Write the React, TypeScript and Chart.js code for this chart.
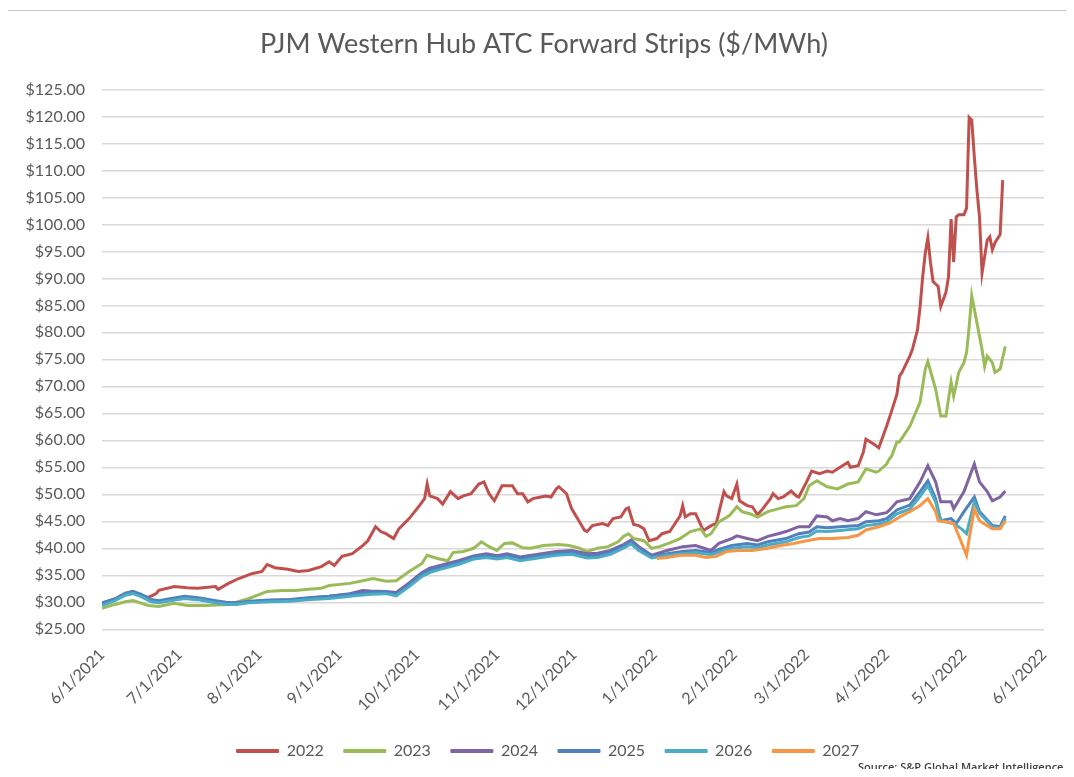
import React, { useEffect, useRef } from 'react';
import { Chart, registerables } from 'chart.js';

Chart.register(...registerables);

// ---- DATA ----
const chartTitle = 'PJM Western Hub ATC Forward Strips ($/MWh)';
const sourceNote = 'Source: S&P Global Market Intelligence';
const seriesNames = ['2022', '2023', '2024', '2025', '2026', '2027'];

// x positions are days since 6/1/2021
const monthDays = [0, 30, 61, 92, 122, 153, 183, 214, 245, 273, 304, 334, 365];
const monthLabels = ['6/1/2021', '7/1/2021', '8/1/2021', '9/1/2021', '10/1/2021', '11/1/2021', '12/1/2021', '1/1/2022', '2/1/2022', '3/1/2022', '4/1/2022', '5/1/2022', '6/1/2022'];
const yMin = 25;
const yMax = 125;
const yStep = 5;

const strip2022: [number, number][] = [
  [0, 29.8], [5, 30.6], [9, 31.6], [12, 32.0], [15, 31.3], [18, 30.9], [21, 31.6], [22, 32.2], [28, 32.9], [33, 32.7],
  [37, 32.6], [44, 32.9], [45, 32.4], [49, 33.5], [53, 34.4], [58, 35.3], [62, 35.7], [64, 37.0], [67, 36.4], [72, 36.1],
  [76, 35.7], [80, 35.9], [85, 36.6], [88, 37.5], [90, 36.8], [93, 38.5], [97, 39.0], [101, 40.5], [103, 41.4], [106, 44.0],
  [108, 43.1], [110, 42.7], [113, 41.8], [115, 43.6], [119, 45.5], [123, 47.9], [125, 49.2], [126, 51.9], [127, 49.7], [130, 49.2],
  [132, 48.2], [135, 50.5], [138, 49.2], [140, 49.7], [143, 50.1], [146, 51.9], [148, 52.3], [150, 50.1], [152, 48.8], [153, 49.7],
  [155, 51.6], [159, 51.6], [161, 50.1], [163, 50.1], [165, 48.6], [167, 49.2], [170, 49.5], [172, 49.7], [174, 49.5], [176, 51.0],
  [177, 51.4], [180, 50.1], [182, 47.3], [185, 44.9], [187, 43.3], [188, 43.1], [190, 44.2], [194, 44.6], [196, 44.2], [198, 45.5],
  [201, 45.8], [203, 47.3], [204, 47.5], [206, 44.4], [208, 44.2], [210, 43.6], [212, 41.4], [215, 41.8], [217, 42.7], [220, 43.1],
  [224, 46.0], [225, 47.9], [226, 45.8], [228, 46.4], [230, 46.4], [233, 43.3], [236, 44.2], [238, 44.6], [241, 50.5], [242, 49.7],
  [244, 49.2], [246, 51.9], [247, 48.8], [250, 47.9], [252, 47.7], [254, 46.2], [256, 47.3], [259, 49.2], [260, 50.1], [262, 49.2],
  [264, 49.5], [267, 50.6], [269, 49.7], [270, 49.5], [273, 52.3], [275, 54.3], [278, 53.8], [281, 54.3], [283, 54.1], [286, 55.0],
  [289, 55.9], [290, 55.0], [293, 55.3], [295, 57.8], [296, 60.2], [299, 59.3], [301, 58.6], [304, 62.6], [306, 65.5], [308, 68.5],
  [309, 71.9], [310, 72.6], [313, 75.6], [314, 76.8], [316, 80.5], [317, 84.8], [318, 90.3], [319, 94.7], [320, 97.5], [321, 93.0],
  [322, 89.4], [324, 88.5], [325, 84.8], [326, 86.1], [327, 87.4], [328, 90.3], [329, 101.0], [330, 93.0], [331, 101.4], [332, 101.8],
  [334, 101.8], [335, 103.0], [336, 119.8], [337, 119.3], [338, 112.5], [339, 106.4], [340, 101.4], [341, 91.0], [343, 97.1], [344, 97.7],
  [345, 95.3], [346, 96.6], [348, 98.1], [349, 108.2],
];

const strip2023: [number, number][] = [
  [0, 28.9], [5, 29.6], [9, 30.1], [12, 30.3], [18, 29.4], [22, 29.2], [28, 29.8], [33, 29.4], [40, 29.4], [49, 29.6],
  [57, 30.7], [64, 32.0], [70, 32.2], [75, 32.2], [80, 32.4], [85, 32.6], [88, 33.1], [96, 33.5], [101, 34.0], [105, 34.4],
  [110, 33.9], [114, 34.0], [119, 35.7], [124, 37.2], [126, 38.7], [130, 38.1], [134, 37.7], [136, 39.2], [140, 39.4], [144, 40.0],
  [147, 41.2], [150, 40.3], [153, 39.6], [156, 40.9], [159, 41.0], [163, 40.1], [166, 40.0], [171, 40.5], [177, 40.7], [181, 40.5],
  [185, 40.0], [188, 39.4], [192, 40.0], [196, 40.3], [200, 41.2], [202, 42.2], [204, 42.7], [206, 41.8], [210, 41.4], [213, 40.0],
  [216, 40.3], [220, 41.0], [224, 41.8], [228, 43.1], [232, 43.6], [234, 42.2], [236, 42.7], [239, 44.9], [243, 46.0], [246, 47.7],
  [248, 46.8], [251, 46.4], [254, 45.8], [258, 46.8], [262, 47.3], [265, 47.7], [269, 47.9], [272, 49.2], [274, 51.6], [277, 52.5],
  [281, 51.4], [285, 51.0], [289, 51.9], [293, 52.3], [296, 54.7], [300, 54.1], [301, 54.3], [304, 55.6], [305, 56.5], [306, 57.1],
  [308, 59.7], [309, 59.7], [313, 62.6], [317, 67.1], [319, 73.2], [320, 74.6], [323, 69.5], [325, 64.5], [327, 64.5], [329, 70.8],
  [330, 68.2], [332, 72.6], [334, 74.4], [335, 76.3], [336, 81.0], [337, 86.8], [339, 81.8], [341, 76.8], [342, 73.7], [343, 75.6],
  [345, 74.4], [346, 72.6], [348, 73.2], [350, 77.4],
];

const strip2024: [number, number][] = [
  [0, 29.6], [5, 30.4], [9, 31.4], [12, 31.7], [15, 31.2], [19, 30.3], [22, 30.0], [28, 30.5], [32, 30.8], [38, 30.5],
  [44, 30.0], [48, 29.7], [52, 29.7], [57, 30.1], [65, 30.3], [73, 30.4], [81, 30.8], [88, 31.1], [96, 31.6], [101, 32.2],
  [104, 32.1], [110, 32.0], [114, 31.8], [119, 33.6], [124, 35.5], [127, 36.3], [131, 36.8], [138, 37.7], [144, 38.6], [149, 39.0],
  [153, 38.6], [157, 39.0], [162, 38.4], [169, 38.9], [176, 39.4], [182, 39.6], [188, 39.0], [192, 39.1], [197, 39.6], [202, 40.7],
  [205, 41.5], [208, 40.3], [213, 38.7], [219, 39.6], [225, 40.3], [230, 40.5], [236, 39.6], [239, 40.9], [244, 41.8], [246, 42.3],
  [250, 41.8], [254, 41.4], [258, 42.2], [262, 42.7], [265, 43.1], [270, 44.0], [274, 44.0], [277, 46.0], [281, 45.8], [283, 45.1],
  [286, 45.5], [289, 45.1], [293, 45.5], [296, 46.8], [300, 46.2], [304, 46.6], [305, 47.0], [308, 48.6], [313, 49.2], [317, 52.3],
  [320, 55.3], [323, 52.3], [325, 48.6], [329, 48.6], [330, 47.3], [334, 50.5], [338, 55.6], [340, 52.3], [343, 50.5], [345, 48.8],
  [348, 49.5], [350, 50.6],
];

const strip2025: [number, number][] = [
  [0, 29.9], [5, 30.6], [9, 31.7], [12, 32.0], [15, 31.5], [19, 30.5], [22, 30.3], [28, 30.8], [32, 31.1], [38, 30.8],
  [44, 30.3], [48, 30.0], [52, 29.9], [57, 30.2], [65, 30.4], [73, 30.5], [81, 30.9], [88, 31.1], [96, 31.5], [104, 31.9],
  [110, 32.0], [114, 31.5], [119, 33.3], [124, 35.3], [127, 36.0], [131, 36.5], [138, 37.4], [144, 38.4], [149, 38.7], [153, 38.4],
  [157, 38.7], [162, 38.1], [169, 38.6], [176, 39.1], [182, 39.3], [188, 38.6], [192, 38.7], [197, 39.3], [202, 40.4], [205, 41.2],
  [208, 40.0], [213, 38.5], [219, 39.0], [225, 39.4], [230, 39.6], [236, 39.2], [239, 39.8], [244, 40.5], [250, 40.9], [254, 40.6],
  [258, 41.2], [265, 41.8], [270, 42.7], [274, 43.0], [277, 44.0], [281, 43.8], [286, 44.0], [293, 44.2], [296, 44.9], [301, 45.1],
  [304, 45.5], [308, 47.1], [313, 48.0], [317, 50.5], [320, 52.5], [323, 49.2], [325, 45.1], [329, 45.5], [331, 44.6], [334, 46.8],
  [338, 49.5], [340, 46.8], [345, 44.2], [348, 44.0], [350, 46.0],
];

const strip2026: [number, number][] = [
  [0, 29.4], [5, 30.3], [9, 31.3], [12, 31.6], [15, 31.1], [19, 30.1], [22, 29.9], [28, 30.4], [32, 30.7], [38, 30.4],
  [44, 29.9], [48, 29.7], [52, 29.6], [57, 29.9], [65, 30.1], [73, 30.2], [81, 30.5], [88, 30.7], [96, 31.1], [104, 31.5],
  [110, 31.6], [114, 31.2], [119, 32.9], [124, 34.8], [127, 35.5], [131, 36.1], [138, 37.0], [144, 38.0], [149, 38.3], [153, 38.0],
  [157, 38.3], [162, 37.7], [169, 38.2], [176, 38.7], [182, 38.9], [188, 38.2], [192, 38.3], [197, 38.9], [202, 40.0], [205, 40.8],
  [208, 39.6], [213, 38.2], [219, 38.7], [225, 39.0], [230, 39.2], [236, 38.8], [239, 39.3], [244, 40.0], [250, 40.3], [254, 40.1],
  [258, 40.6], [265, 41.2], [270, 42.0], [274, 42.3], [277, 43.2], [281, 43.1], [286, 43.3], [293, 43.6], [296, 44.2], [301, 44.5],
  [304, 44.9], [308, 46.4], [313, 47.3], [317, 49.6], [320, 51.6], [323, 48.6], [325, 45.1], [330, 44.6], [333, 43.6], [335, 42.7],
  [338, 48.6], [340, 46.5], [345, 44.0], [348, 43.7], [350, 45.5],
];

const strip2027: [number, number][] = [
  [215, 38.1], [219, 38.3], [224, 38.7], [230, 38.7], [234, 38.3], [238, 38.5], [242, 39.4], [247, 39.6], [252, 39.6], [258, 40.0],
  [263, 40.5], [268, 40.9], [273, 41.4], [278, 41.8], [283, 41.8], [289, 42.0], [293, 42.4], [296, 43.4], [301, 44.0], [304, 44.5],
  [305, 44.6], [309, 45.8], [313, 46.8], [317, 47.9], [320, 49.2], [323, 46.8], [324, 45.1], [327, 44.9], [330, 44.6], [332, 42.3],
  [335, 38.7], [336, 41.8], [338, 47.3], [340, 45.1], [343, 44.2], [345, 43.6], [348, 43.6], [350, 45.1],
];

const seriesData = [strip2022, strip2023, strip2024, strip2025, strip2026, strip2027];

// ---- STYLE ----
const seriesColors = ['#C0504D', '#9BBB59', '#8064A2', '#4F81BD', '#4BACC6', '#F79646'];
const textColor = '#595959';
const fontFamily = 'Lato, "Open Sans", sans-serif';

// shifts the centred title / legend horizontally (the y-axis labels sit in the left gutter)
const blockShift = {
  id: 'blockShift',
  afterLayout(chart: any) {
    if (chart.titleBlock) {
      chart.titleBlock.left += 16;
      chart.titleBlock.right += 16;
    }
    if (chart.legend) {
      chart.legend.left += 20;
      chart.legend.right += 20;
    }
  },
};

export default function App() {
  const canvasRef = useRef<HTMLCanvasElement | null>(null);

  useEffect(() => {
    if (!canvasRef.current) return;
    const datasets = seriesNames.map((name, i) => ({
      label: name,
      data: seriesData[i].map(([d, v]) => ({ x: d, y: v })),
      borderColor: seriesColors[i],
      backgroundColor: seriesColors[i],
      borderWidth: 3,
      pointRadius: 0,
      tension: 0,
      order: seriesNames.length - i,
    }));

    const chart = new Chart(canvasRef.current, {
      type: 'line',
      data: { datasets },
      plugins: [blockShift],
      options: {
        animation: false,
        responsive: true,
        maintainAspectRatio: false,
        layout: { padding: { left: 4, right: 22, top: 0, bottom: 0 } },
        plugins: {
          title: {
            display: true,
            text: chartTitle,
            color: textColor,
            font: { family: fontFamily, size: 27, weight: 'normal' },
            padding: { top: 20, bottom: 29 },
          },
          legend: {
            position: 'bottom',
            labels: {
              boxWidth: 42,
              boxHeight: 3,
              padding: 20,
              color: textColor,
              font: { family: fontFamily, size: 16 },
              sort: (a: any, b: any) => a.datasetIndex - b.datasetIndex,
              generateLabels: (c: any) => {
                const items = Chart.defaults.plugins.legend.labels.generateLabels(c);
                return items.map((it: any) => ({ ...it, lineWidth: 1, strokeStyle: it.fillStyle }));
              },
            },
          },
          tooltip: { enabled: false },
        },
        scales: {
          x: {
            type: 'linear',
            min: monthDays[0],
            max: monthDays[monthDays.length - 1],
            afterBuildTicks: (s: any) => {
              s.ticks = monthDays.map((v) => ({ value: v }));
            },
            ticks: {
              autoSkip: false,
              minRotation: 45,
              maxRotation: 45,
              padding: 8,
              color: textColor,
              font: { family: fontFamily, size: 16 },
              callback: (v: any) => {
                const i = monthDays.indexOf(Number(v));
                return i >= 0 ? monthLabels[i] : '';
              },
            },
            grid: { display: false },
            border: { display: false },
          },
          y: {
            min: yMin,
            max: yMax,
            afterFit: (s: any) => {
              s.width = 90;
            },
            ticks: {
              stepSize: yStep,
              padding: 17,
              color: textColor,
              font: { family: fontFamily, size: 16 },
              callback: (v: any) => '$' + Number(v).toFixed(2),
            },
            grid: { color: '#d9d9d9', lineWidth: 1.5, drawTicks: false },
            border: { display: false },
          },
        },
      },
    });
    return () => chart.destroy();
  }, []);

  return (
    <div style={{ position: 'relative', width: 1058, height: 761 }}>
      <div
        style={{
          position: 'absolute',
          left: -1,
          top: 2,
          width: 1066,
          height: 766,
          borderTop: '1px solid #c4c4c4',
          borderLeft: '1px solid #c4c4c4',
          pointerEvents: 'none',
          boxSizing: 'border-box',
        }}
      />
      <canvas ref={canvasRef} />
      <div
        style={{
          position: 'absolute',
          left: 850,
          top: 751,
          fontFamily: '"Open Sans", sans-serif',
          fontSize: 11,
          fontWeight: 600,
          color: '#404040',
          whiteSpace: 'nowrap',
        }}
      >
        {sourceNote}
      </div>
    </div>
  );
}
